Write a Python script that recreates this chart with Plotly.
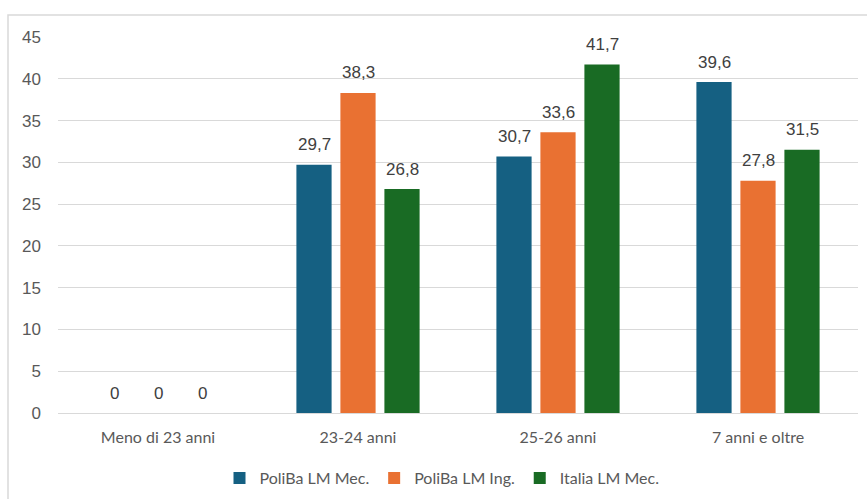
import plotly.graph_objects as go

categories = ["Meno di 23 anni", "23-24 anni", "25-26 anni", "7 anni e oltre"]
series_names = ["PoliBa LM Mec.", "PoliBa LM Ing.", "Italia LM Mec."]
poliba_mec = [0, 29.7, 30.7, 39.6]
poliba_ing = [0, 38.3, 33.6, 27.8]
italia_mec = [0, 26.8, 41.7, 31.5]
colors = ["#156082", "#E97132", "#196B24"]

all_series = [poliba_mec, poliba_ing, italia_mec]
bar_pitch = 44  # px between adjacent bars within a group

fig = go.Figure()
annotations = []
for i, (name, vals, col) in enumerate(zip(series_names, all_series, colors)):
    fig.add_trace(go.Bar(
        x=categories, y=vals, name=name,
        marker=dict(color=col, line=dict(width=0)),
    ))
    # value labels above each bar, Italian decimal comma
    for cat, v in zip(categories, vals):
        annotations.append(dict(
            x=cat, y=v, xref="x", yref="y",
            text=f"{v:g}".replace(".", ","), showarrow=False,
            xshift=(i - 1) * bar_pitch, yshift=20, yanchor="middle",
            font=dict(family="Liberation Sans, Arial", size=17, color="#404040"),
        ))

fig.update_layout(
    width=867, height=499,
    margin=dict(l=58, r=9, t=37, b=86, autoexpand=False),
    paper_bgcolor="white", plot_bgcolor="white",
    barmode="group", bargap=0.34, bargroupgap=0.2,
    showlegend=True,
    legend=dict(orientation="h", x=0.48, xanchor="center", y=-0.173, yanchor="middle",
                font=dict(family="Lato, Open Sans", size=16, color="#595959"),
                itemwidth=30, traceorder="normal"),
    xaxis=dict(showgrid=False, showline=True, linecolor="#d9d9d9", linewidth=1,
               ticks="", ticklabelstandoff=10, automargin=False,
               tickfont=dict(family="Lato, Open Sans", size=16, color="#595959")),
    yaxis=dict(range=[0, 45], dtick=5, showgrid=True, gridcolor="#d9d9d9", gridwidth=1,
               zeroline=False, showline=False, ticks="", ticklabelstandoff=16,
               automargin=False,
               tickfont=dict(family="Liberation Sans, Arial", size=17, color="#595959")),
    annotations=annotations,
    shapes=[dict(type="rect", xref="paper", yref="paper",
                 x0=-0.0625, x1=1.2, y0=-0.5, y1=1.0585,
                 line=dict(color="#d9d9d9", width=1.5), layer="below")],
)

fig.write_html("out.html")
